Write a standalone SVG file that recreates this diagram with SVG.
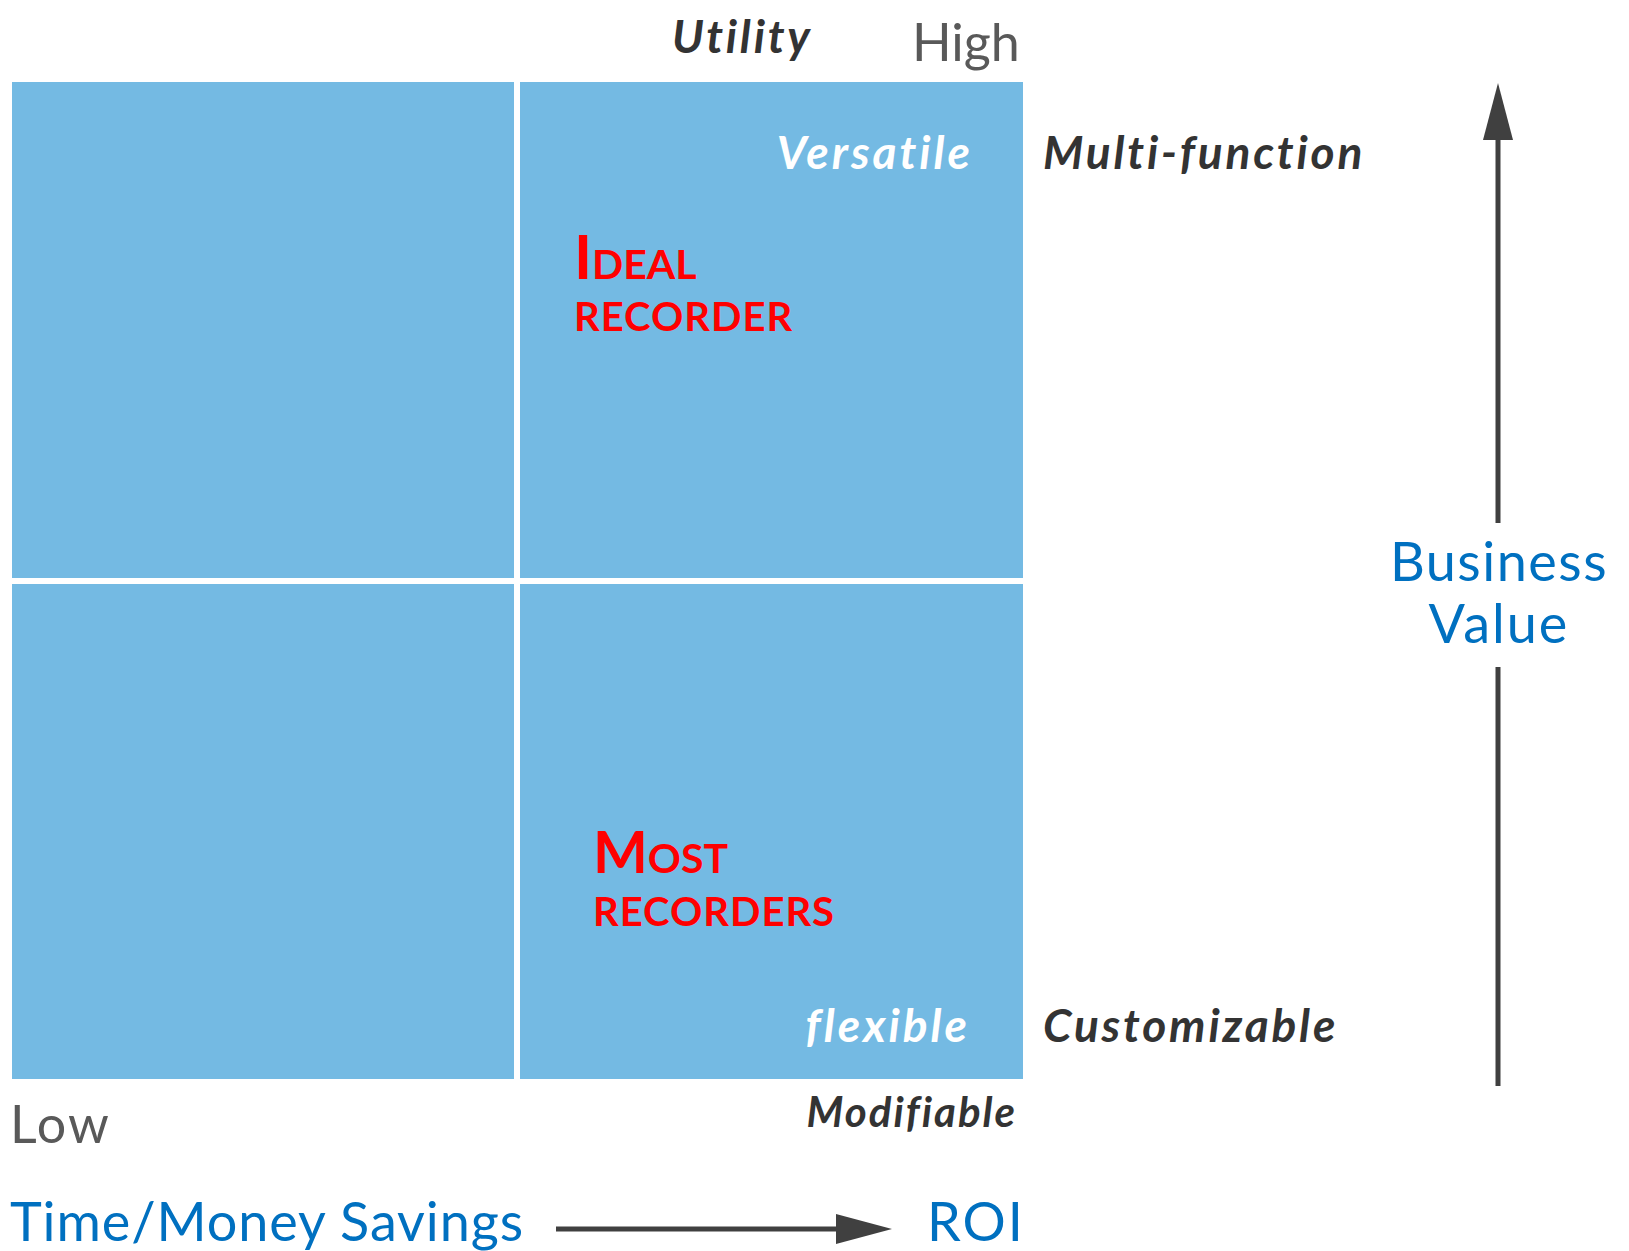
<svg xmlns="http://www.w3.org/2000/svg" width="1629" height="1251" viewBox="0 0 1629 1251">
<style>
text{font-family:Lato,"Liberation Sans",sans-serif}
.q{fill:#74BAE3}
.lbl{font-weight:bold;font-style:italic;fill:#333333;font-size:46px;letter-spacing:2.8px}
.wl{font-weight:bold;font-style:italic;fill:#FFFFFF;font-size:46px;letter-spacing:3px}
.gray{fill:#595959;font-size:52px}
.blue{fill:#0070C0;font-size:54px}
.red{fill:#FF0000;font-weight:bold}
.ax{stroke:#404040;stroke-width:5;fill:none}
</style>
<g id="quadrants">
<rect id="q-tl" class="q" x="12" y="82" width="502" height="496"/>
<rect id="q-tr" class="q" x="520" y="82" width="503" height="496"/>
<rect id="q-bl" class="q" x="12" y="584" width="502" height="495"/>
<rect id="q-br" class="q" x="520" y="584" width="503" height="495"/>
</g>
<g id="labels-top">
<text class="lbl" x="672" y="53">Utility</text>
<text class="gray" x="912" y="61">High</text>
</g>
<g id="ideal">
<text class="red" x="574" y="279"><tspan font-size="61">I</tspan><tspan font-size="41">DEAL</tspan></text>
<text class="red" x="574" y="331" font-size="40" letter-spacing="1">RECORDER</text>
</g>
<g id="most">
<text class="red" x="593" y="873"><tspan font-size="58">M</tspan><tspan font-size="41">OST</tspan></text>
<text class="red" x="593" y="926" font-size="40" letter-spacing="1">RECORDERS</text>
</g>
<g id="side-labels">
<text class="wl" x="973" y="169" text-anchor="end">Versatile</text>
<text class="lbl" x="1043" y="169">Multi-function</text>
<text class="wl" x="970" y="1042" text-anchor="end">flexible</text>
<text class="lbl" x="1043" y="1042">Customizable</text>
<text class="lbl" x="1017" y="1127" text-anchor="end" style="font-size:42px;letter-spacing:2px">Modifiable</text>
<text class="gray" x="10" y="1143" letter-spacing="2">Low</text>
</g>
<g id="axis-labels">
<text class="blue" x="10" y="1241" letter-spacing="0.9">Time/Money Savings</text>
<text class="blue" x="927" y="1241" letter-spacing="2">ROI</text>
<text class="blue" x="1499" y="581" text-anchor="middle" letter-spacing="1.5">Business</text>
<text class="blue" x="1499" y="643" text-anchor="middle" letter-spacing="2">Value</text>
</g>
<g id="connectors">
<path class="ax" d="M556,1229 H836"/>
<path d="M836,1214 L892,1229 L836,1244 Z" fill="#404040"/>
<path class="ax" d="M1498,523 V138"/>
<path d="M1483,140 L1498,83 L1513,140 Z" fill="#404040"/>
<path class="ax" d="M1498,667 V1086"/>
</g>
</svg>
